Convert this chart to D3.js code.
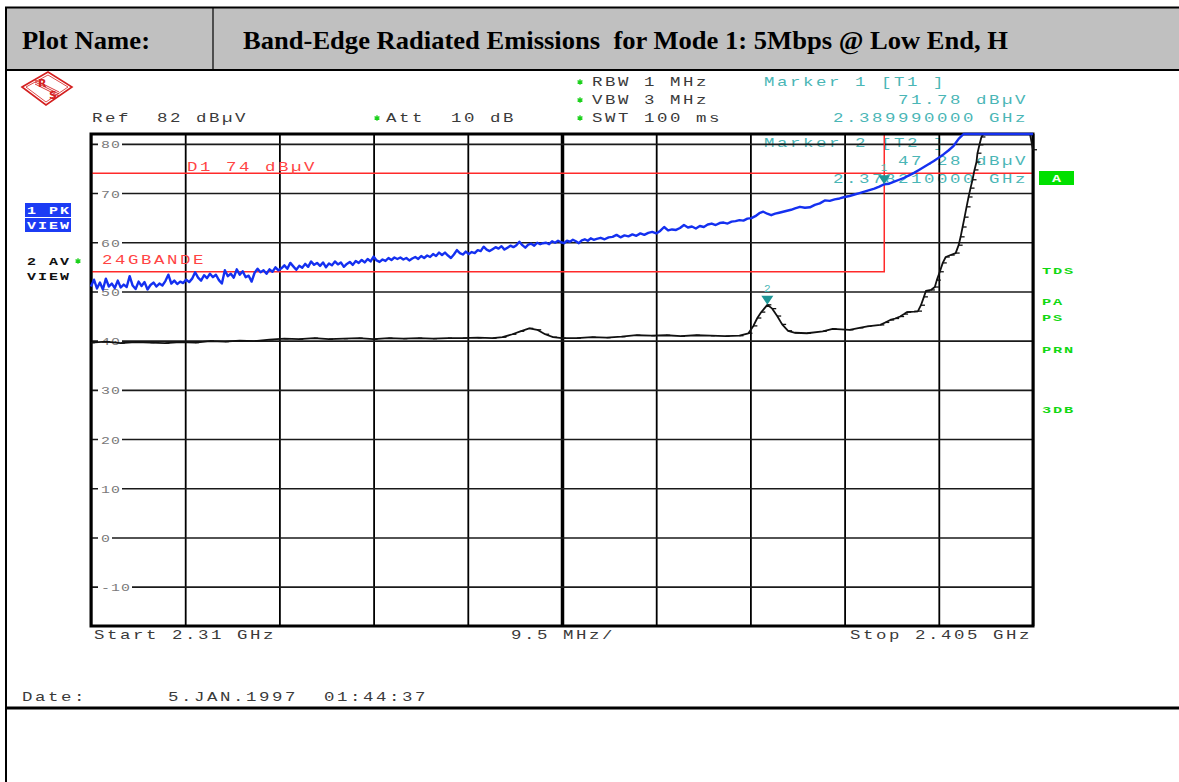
<!DOCTYPE html>
<html>
<head>
<meta charset="utf-8">
<script src="https://cdn.jsdelivr.net/npm/d3@7"></script>
<style>
  body { margin: 0; background: #fff; }
  text { white-space: pre; }
</style>
</head>
<body>
<script>
// ---------------- DATA ----------------
const plotName = "Plot Name:";
const plotTitle = "Band-Edge Radiated Emissions  for Mode 1: 5Mbps @ Low End, H";
const startMHz = 2310, stopMHz = 2405, spanPerDivMHz = 9.5;
const refLevel = 82, dbPerDiv = 10;
const yTicks = [80, 70, 60, 50, 40, 30, 20, 10, 0, -10];
const yTickLabels = ["80", "70", "60", "50", "40", "30", "20", "10", "0", "-10"];
const settingLines = ["RBW 1 MHz", "VBW 3 MHz", "SWT 100 ms"];
const refText = "Ref  82 dBµV";
const attText = "Att  10 dB";
const bottomLabels = ["Start 2.31 GHz", "9.5 MHz/", "Stop 2.405 GHz"];
const dateLabel = "Date:";
const dateText = "5.JAN.1997  01:44:37";
const rightLabels = ["TDS", "PA", "PS", "PRN", "3DB"];
const displayLine = { name: "D1 74 dBµV", level: 74 };
const limitName = "24GBANDE";
const limitLine = [[2310, 54], [2390, 54], [2390, 82]];
const markers = [
  { id: 1, trace: "T1", freq: 2389.99, level: 71.78 },
  { id: 2, trace: "T2", freq: 2378.21, level: 47.28 }
];
// Trace 1 (PK, blue): [MHz, dBµV]
const peakTrace = [
[2310.0,51.0],[2310.3,52.4],[2310.6,50.6],[2310.9,51.8],[2311.2,50.4],[2311.5,52.6],[2311.8,51.0],[2312.1,51.6],[2312.4,50.7],[2312.7,52.2],
[2313.0,50.8],[2313.3,51.4],[2313.6,50.9],[2313.9,53.1],[2314.2,51.2],[2314.5,50.5],[2314.8,52.0],[2315.1,51.1],[2315.4,51.9],[2315.7,50.4],
[2316.0,51.3],[2316.3,51.8],[2316.6,51.0],[2316.9,51.6],[2317.2,51.2],[2317.5,52.1],[2317.8,53.4],[2318.1,51.6],[2318.4,52.2],[2318.7,51.5],
[2319.0,52.0],[2319.3,51.7],[2319.6,52.4],[2319.9,51.9],[2320.2,52.6],[2320.5,53.9],[2320.8,52.8],[2321.1,52.2],[2321.4,53.3],[2321.7,52.7],
[2322.0,53.6],[2322.3,52.9],[2322.6,53.4],[2322.9,52.3],[2323.2,51.6],[2323.5,54.3],[2323.8,53.1],[2324.1,53.6],[2324.4,52.8],[2324.7,54.5],
[2325.0,53.4],[2325.3,54.1],[2325.6,52.9],[2325.9,53.2],[2326.2,52.0],[2326.5,53.8],[2326.8,54.6],[2327.1,53.9],[2327.4,54.3],[2327.7,53.6],
[2328.0,54.5],[2328.3,54.0],[2328.6,54.9],[2328.9,54.3],[2329.2,54.7],[2329.5,55.3],[2329.8,54.6],[2330.1,55.8],[2330.4,55.1],[2330.7,54.4],
[2331.0,55.2],[2331.3,54.8],[2331.6,55.6],[2331.9,55.0],[2332.2,56.1],[2332.5,55.4],[2332.8,55.8],[2333.1,55.2],[2333.4,55.9],[2333.7,54.9],
[2334.0,55.7],[2334.3,55.3],[2334.6,56.1],[2334.9,55.5],[2335.2,55.9],[2335.5,55.0],[2335.8,55.6],[2336.1,56.0],[2336.4,55.4],[2336.7,56.2],
[2337.0,55.8],[2337.3,56.4],[2337.6,55.9],[2337.9,56.6],[2338.2,56.1],[2338.5,57.1],[2338.8,56.3],[2339.1,56.0],[2339.4,56.5],[2339.7,56.2],
[2340.0,56.8],[2340.3,56.4],[2340.6,56.9],[2340.9,56.6],[2341.2,56.9],[2341.5,56.5],[2341.8,56.8],[2342.1,56.3],[2342.4,56.7],[2342.7,57.0],
[2343.0,56.6],[2343.3,57.2],[2343.6,56.8],[2343.9,57.3],[2344.2,57.0],[2344.5,57.6],[2344.8,57.2],[2345.1,57.9],[2345.4,57.4],[2345.7,57.9],
[2346.0,57.3],[2346.3,56.8],[2346.6,57.5],[2346.9,58.4],[2347.2,57.8],[2347.5,57.5],[2347.8,58.1],[2348.1,57.6],[2348.4,58.0],[2348.7,57.8],
[2349.0,58.4],[2349.3,58.2],[2349.6,59.1],[2349.9,58.5],[2350.2,58.2],[2350.5,58.6],[2350.8,59.0],[2351.1,58.7],[2351.4,59.2],[2351.7,58.5],
[2352.0,58.9],[2352.3,59.3],[2352.6,59.0],[2352.9,59.4],[2353.2,60.1],[2353.5,59.4],[2353.8,58.9],[2354.1,59.5],[2354.4,59.7],[2354.7,59.3],
[2355.0,59.9],[2355.3,59.6],[2355.6,59.8],[2355.9,59.9],[2356.2,59.6],[2356.5,60.2],[2356.8,59.9],[2357.1,60.3],[2357.4,60.0],[2357.7,59.8],
[2358.0,60.3],[2358.3,60.1],[2358.6,60.5],[2358.9,60.2],[2359.2,59.8],[2359.5,60.4],[2359.8,60.6],[2360.1,60.3],[2360.4,60.8],[2360.7,60.5],
[2361.0,60.7],[2361.4,60.9],[2361.8,60.6],[2362.2,61.0],[2362.6,61.1],[2363.0,61.5],[2363.4,61.0],[2363.8,61.4],[2364.2,61.2],[2364.6,61.6],
[2365.0,61.3],[2365.4,61.8],[2365.8,61.5],[2366.2,61.9],[2366.6,62.1],[2367.0,61.8],[2367.4,62.3],[2367.8,63.1],[2368.2,62.4],[2368.6,62.6],
[2369.0,62.5],[2369.4,62.9],[2369.8,63.5],[2370.2,63.0],[2370.6,63.2],[2371.0,62.8],[2371.4,63.3],[2371.8,63.1],[2372.2,63.6],[2372.6,63.8],
[2373.0,63.5],[2373.4,63.9],[2373.8,64.0],[2374.2,63.8],[2374.6,64.2],[2375.0,64.3],[2375.4,64.5],[2375.8,64.4],[2376.2,64.8],[2376.6,64.9],
[2377.0,65.3],[2377.4,65.9],[2377.8,66.2],[2378.2,65.8],[2378.6,65.5],[2379.0,65.8],[2379.4,66.0],[2379.8,66.2],[2380.2,66.4],[2380.6,66.6],
[2381.0,66.9],[2381.5,67.2],[2382.0,67.0],[2382.5,67.1],[2383.0,67.6],[2383.5,67.9],[2384.0,68.5],[2384.5,68.4],[2385.0,68.7],[2385.5,68.9],
[2386.0,69.2],[2386.5,69.4],[2387.0,69.7],[2387.5,70.0],[2388.0,70.3],[2388.5,70.6],[2389.0,70.9],[2389.5,71.3],[2389.99,71.78],[2390.5,71.9],
[2391.0,72.3],[2391.5,72.7],[2392.0,73.1],[2392.5,73.6],[2393.0,74.1],[2393.5,74.7],[2394.0,75.3],[2394.5,75.9],[2395.0,76.5],[2395.5,77.2],
[2396.0,77.9],[2396.5,78.7],[2397.0,79.6],[2397.5,81.0],[2398.0,82.4],[2398.5,83.5],[2400.0,84.5],[2402.5,85.0],[2405.0,85.0]
];
// Trace 2 (AV, black): [MHz, dBµV]
const avgTrace = [
[2310.0,39.6],[2311.5,39.8],[2313.0,39.5],[2314.5,39.7],[2316.0,39.6],[2317.5,39.5],[2319.0,39.7],[2320.5,39.6],[2322.0,39.9],[2323.5,39.8],
[2325.0,40.0],[2326.5,39.9],[2328.0,40.2],[2329.5,40.4],[2331.0,40.3],[2332.5,40.5],[2334.0,40.3],[2335.5,40.4],[2337.0,40.5],[2338.5,40.3],
[2340.0,40.5],[2341.5,40.4],[2343.0,40.5],[2344.5,40.4],[2346.0,40.5],[2347.5,40.5],[2349.0,40.6],[2350.5,40.5],[2351.5,40.7],[2352.5,41.3],
[2353.3,41.9],[2354.2,42.5],[2355.0,42.2],[2355.8,41.3],[2356.6,40.7],[2357.5,40.5],[2359.0,40.5],[2360.5,40.7],[2362.0,40.6],[2363.5,40.8],
[2365.0,41.1],[2366.5,41.0],[2368.0,41.1],[2369.5,40.9],[2371.0,41.1],[2372.5,41.0],[2374.0,40.9],[2375.4,41.0],[2376.3,41.5],[2376.8,43.0],
[2377.2,44.6],[2377.6,45.8],[2378.21,47.28],[2378.7,46.5],[2379.2,45.0],[2379.7,43.3],[2380.3,42.0],[2381.0,41.6],[2382.2,41.5],[2383.8,41.9],
[2384.8,42.4],[2386.5,42.2],[2387.5,42.6],[2388.3,42.9],[2389.6,43.2],[2390.1,43.7],[2390.6,44.2],[2391.1,44.5],[2391.6,44.9],[2392.0,45.4],
[2392.3,45.8],[2393.0,45.9],[2393.4,46.0],[2393.7,47.2],[2394.0,48.9],[2394.2,50.1],[2394.7,50.3],[2395.1,50.9],[2395.3,52.3],[2395.6,54.0],
[2395.9,55.8],[2396.2,57.0],[2396.7,57.4],[2397.2,57.8],[2397.5,59.4],[2397.7,61.1],[2397.9,63.1],[2398.1,65.1],[2398.3,67.2],[2398.5,69.2],
[2398.7,71.0],[2398.9,72.7],[2399.1,74.7],[2399.3,76.3],[2399.4,78.1],[2399.6,79.8],[2399.8,81.4],[2400.0,83.0],[2402.0,84.0],[2404.7,84.0],
[2405.0,78.8]
];

// ---------------- LAYOUT ----------------
const W = 1179, H = 782;
const X0 = 91, X1 = 1033, Y0 = 134, Y1 = 626;
const MONO = '"Liberation Mono", "DejaVu Sans Mono", monospace';

const svg = d3.select("body").append("svg").attr("width", W).attr("height", H);

const x = d3.scaleLinear().domain([startMHz, stopMHz]).range([X0, X1]);
const y = d3.scaleLinear().domain([refLevel - 10 * dbPerDiv, refLevel]).range([Y1, Y0]);
const yc = v => y(Math.min(v, refLevel));

// monospaced instrument text, glyphs widened horizontally
function mono(g, px, py, str, o = {}) {
  const fs = o.fs || 12, adv = o.adv || 13, sx = o.sx || 1.45;
  return g.append("text")
    .attr("transform", `translate(${px},${py}) scale(${sx},1)`)
    .attr("xml:space", "preserve")
    .attr("fill", o.fill || "#3a3a3a")
    .style("font-family", MONO)
    .style("font-size", fs + "px")
    .style("font-weight", o.weight || "normal")
    .style("letter-spacing", (adv / sx - 0.6 * fs) + "px")
    .text(str);
}
function star(g, px, py) {
  g.append("path").attr("transform", `translate(${px},${py})`)
    .attr("d", d3.symbol(d3.symbolAsterisk, 22)())
    .attr("stroke", "#19d019").attr("stroke-width", 1.3).attr("fill", "none");
}

// ---------------- TABLE / HEADER ----------------
svg.append("rect").attr("x", 6).attr("y", 8).attr("width", W - 6).attr("height", 62).attr("fill", "#c0c0c0");
svg.append("line").attr("x1", 5).attr("x2", W).attr("y1", 7.5).attr("y2", 7.5).attr("stroke", "#000").attr("stroke-width", 2);
svg.append("line").attr("x1", 5).attr("x2", W).attr("y1", 70).attr("y2", 70).attr("stroke", "#000").attr("stroke-width", 2);
svg.append("line").attr("x1", 6).attr("x2", 6).attr("y1", 7).attr("y2", H).attr("stroke", "#000").attr("stroke-width", 2);
svg.append("line").attr("x1", 213).attr("x2", 213).attr("y1", 8).attr("y2", 70).attr("stroke", "#000").attr("stroke-width", 1.2);
svg.append("line").attr("x1", 5).attr("x2", W).attr("y1", 708).attr("y2", 708).attr("stroke", "#000").attr("stroke-width", 3);

svg.append("text").attr("x", 22).attr("y", 49).text(plotName)
  .style("font-family", '"Liberation Serif", "Times New Roman", serif').style("font-weight", "bold")
  .style("font-size", "25px").attr("textLength", 128).attr("lengthAdjust", "spacingAndGlyphs");
svg.append("text").attr("x", 243).attr("y", 49).attr("xml:space", "preserve").text(plotTitle)
  .style("font-family", '"Liberation Serif", "Times New Roman", serif').style("font-weight", "bold")
  .style("font-size", "25px").attr("textLength", 765).attr("lengthAdjust", "spacingAndGlyphs");

// ---------------- R&S LOGO ----------------
const logo = svg.append("g").attr("transform", "translate(47,88)").attr("stroke", "#d42020").attr("fill", "none");
logo.append("path").attr("d", "M-25,-1 L1,-16 L25,-1 L-1,17 Z").attr("stroke-width", 1.6);
logo.append("path").attr("d", "M-21,-1 L1,-13 L21,-1 L-1,14 Z").attr("stroke-width", 0.8);
[-2, 0, 2].forEach(d => logo.append("line").attr("x1", -12).attr("y1", -6 + d).attr("x2", 12).attr("y2", 6 + d).attr("stroke-width", 0.9));
logo.append("text").attr("x", -9).attr("y", -1).text("R").attr("fill", "#d42020").attr("stroke", "none")
  .style("font-family", "DejaVu Sans").style("font-size", "11px").style("font-weight", "bold");
logo.append("text").attr("x", 2).attr("y", 11).text("S").attr("fill", "#d42020").attr("stroke", "none")
  .style("font-family", "DejaVu Sans").style("font-size", "11px").style("font-weight", "bold");

// ---------------- INSTRUMENT TEXT ----------------
settingLines.forEach((s, i) => {
  star(svg, 580, 82 + i * 18);
  mono(svg, 592, 86 + i * 18, s);
});
mono(svg, 92, 122, refText);
star(svg, 377, 118);
mono(svg, 386, 122, attText);

const teal = "#4ab6b6";
markers.forEach((m, i) => {
  const top = i === 0 ? 86 : 147;
  const l1 = `Marker ${m.id} [${m.trace} ]`;
  const l2 = `${m.level.toFixed(2)} dBµV`;
  const l3 = `${(m.freq / 1000).toFixed(9)} GHz`;
  mono(svg, 764, top, l1, { fill: teal });
  mono(svg, 1028 - l2.length * 13, top + 18, l2, { fill: teal });
  mono(svg, 1028 - l3.length * 13, top + 36, l3, { fill: teal });
});

mono(svg, 94, 639, bottomLabels[0]);
mono(svg, 511, 639, bottomLabels[1]);
mono(svg, 850, 639, bottomLabels[2]);
mono(svg, 22, 701, dateLabel);
mono(svg, 168, 701, dateText);

// left trace labels
svg.append("rect").attr("x", 25).attr("y", 203).attr("width", 46).attr("height", 14).attr("fill", "#1c3cf4");
svg.append("rect").attr("x", 25).attr("y", 218).attr("width", 46).attr("height", 14).attr("fill", "#1c3cf4");
mono(svg, 27, 214, "1 PK", { fs: 10, adv: 11, sx: 1.5, fill: "#fff", weight: "bold" });
mono(svg, 27, 229, "VIEW", { fs: 10, adv: 11, sx: 1.5, fill: "#fff", weight: "bold" });
mono(svg, 27, 265, "2 AV", { fs: 10, adv: 11, sx: 1.5, fill: "#111", weight: "bold" });
star(svg, 78, 261);
mono(svg, 27, 280, "VIEW", { fs: 10, adv: 11, sx: 1.5, fill: "#111", weight: "bold" });

// right side labels
svg.append("rect").attr("x", 1039).attr("y", 171).attr("width", 35).attr("height", 14).attr("fill", "#00e000");
mono(svg, 1052, 182, "A", { fs: 10, adv: 11, sx: 1.5, fill: "#f4fff4", weight: "bold" });
const rightY = [274, 305, 321, 353, 413];
rightLabels.forEach((s, i) => mono(svg, 1042, rightY[i], s, { fs: 9, adv: 11, sx: 1.7, fill: "#12d812", weight: "bold" }));

// ---------------- GRID ----------------
const xTicks = d3.range(startMHz, stopMHz + 0.01, spanPerDivMHz);
const gx = svg.append("g").attr("transform", `translate(0,${Y1})`)
  .call(d3.axisBottom(x).tickValues(xTicks).tickSize(-(Y1 - Y0)).tickFormat(""));
gx.select(".domain").remove();
gx.selectAll("line").attr("stroke", "#000")
  .attr("stroke-width", (d, i) => i === 5 ? 3.5 : 1.8);

const gy = svg.append("g").attr("transform", `translate(${X0},0)`)
  .call(d3.axisRight(y).tickValues(yTicks).tickSize(X1 - X0).tickFormat((d, i) => yTickLabels[i]));
gy.select(".domain").remove();
gy.selectAll("line").attr("stroke", "#1a1a1a").attr("stroke-width", 1.6);
gy.selectAll(".tick").each(function (d, i) {
  const t = d3.select(this);
  const lab = yTickLabels[i];
  t.insert("rect", "text").attr("x", 7).attr("y", -5).attr("width", lab.length * 10 + 4).attr("height", 10).attr("fill", "#fff");
  t.select("text").attr("x", 0).attr("dy", "0.36em").attr("fill", "#7a7a7a")
    .attr("transform", "translate(10,0) scale(1.35,1)")
    .attr("xml:space", "preserve")
    .style("font-family", MONO).style("font-size", "11px").style("letter-spacing", (10 / 1.35 - 6.6) + "px");
});

// ---------------- LIMIT / DISPLAY LINES ----------------
const red = "#ff2a2a";
svg.append("line").attr("x1", X0).attr("x2", X1).attr("y1", y(displayLine.level)).attr("y2", y(displayLine.level))
  .attr("stroke", red).attr("stroke-width", 1.5);
mono(svg, 187, y(displayLine.level) - 2, displayLine.name, { fill: "#ff4444" });
svg.append("path").datum(limitLine)
  .attr("d", d3.line().x(d => x(d[0])).y(d => y(d[1])))
  .attr("fill", "none").attr("stroke", red).attr("stroke-width", 1.5);
mono(svg, 102, 264, limitName, { fill: "#ff4444" });

// ---------------- FRAME ----------------
svg.append("rect").attr("x", X0).attr("y", Y0).attr("width", X1 - X0).attr("height", Y1 - Y0)
  .attr("fill", "none").attr("stroke", "#000").attr("stroke-width", 3);

// ---------------- TRACES ----------------
const line = d3.line().x(d => x(d[0])).y(d => yc(d[1]));
svg.append("path").datum(avgTrace).attr("d", line)
  .attr("fill", "none").attr("stroke", "#111").attr("stroke-width", 1.8).attr("stroke-linejoin", "round");
svg.append("g").selectAll("line").data(avgTrace).join("line")
  .attr("x1", d => x(d[0])).attr("x2", d => x(d[0]) + 4)
  .attr("y1", d => yc(d[1])).attr("y2", d => yc(d[1]))
  .attr("stroke", "#111").attr("stroke-width", 1.3);
svg.append("path").datum(peakTrace).attr("d", line)
  .attr("fill", "none").attr("stroke", "#1430f0").attr("stroke-width", 2.4).attr("stroke-linejoin", "round");

// ---------------- MARKERS ----------------
markers.forEach(m => {
  const mx = x(m.freq), my = y(m.level);
  svg.append("path").attr("d", `M${mx - 6},${my - 9} L${mx + 6},${my - 9} L${mx},${my} Z`).attr("fill", "#1d9696");
  svg.append("text").attr("x", mx).attr("y", my - 13).attr("text-anchor", "middle").attr("fill", teal)
    .style("font-family", MONO).style("font-size", "11px").text(m.id);
});
</script>
</body>
</html>
